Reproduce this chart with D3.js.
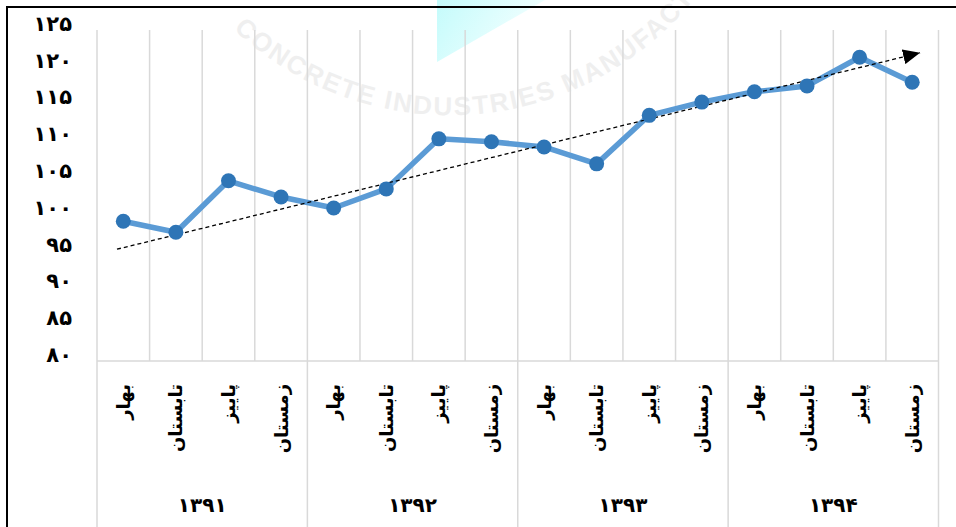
<!DOCTYPE html>
<html>
<head>
<meta charset="utf-8">
<script src="https://cdn.jsdelivr.net/npm/d3@7"></script>
<style>
  body { margin: 0; background: #fff; }
  text { font-family: "DejaVu Sans", sans-serif; font-weight: bold; }
</style>
</head>
<body>
<div id="chart"></div>
<script>
// Data
const years = ["۱۳۹۱", "۱۳۹۲", "۱۳۹۳", "۱۳۹۴"];
const seasons = ["بهار", "تابستان", "پاییز", "زمستان"];
const values = [99.0, 97.5, 104.5, 102.3, 100.8, 103.4, 110.2, 109.8,
                109.1, 106.8, 113.4, 115.2, 116.6, 117.4, 121.3, 117.9];
const yTicks = [80, 85, 90, 95, 100, 105, 110, 115, 120, 125];
// hand drawn trend arrow (category index, value)
const trendIdx = [-0.12, 15.15];
const trendVal = [95.2, 121.9];

const fa = n => String(n).replace(/\d/g, d => "۰۱۲۳۴۵۶۷۸۹"[d]);

const data = values.map((v, i) => ({
  i: i, year: years[Math.floor(i / 4)], season: seasons[i % 4], value: v
}));

const width = 956, height = 527;
const plot = {left: 97, right: 938.5, top: 30, bottom: 361};

const svg = d3.select("#chart")
  .append("svg")
  .attr("width", width)
  .attr("height", height);

// watermark (very faint)
const defs = svg.append("defs");
const grad = defs.append("linearGradient").attr("id", "wm")
  .attr("x1", "0").attr("x2", "1").attr("y1", "0").attr("y2", "0.4");
grad.append("stop").attr("offset", "0%").attr("stop-color", "#c4fbfb");
grad.append("stop").attr("offset", "100%").attr("stop-color", "#f4ffff");

svg.append("path")
  .attr("d", "M437,0 L437,62 L545,0 Z")
  .attr("fill", "url(#wm)");

defs.append("path").attr("id", "arc")
  .attr("d", "M200,-8 A315,315 0 0,0 740,-77");
svg.append("text")
  .style("font-family", "Liberation Sans, sans-serif")
  .style("font-size", "26px")
  .style("letter-spacing", "2px")
  .attr("fill", "#efefef")
  .append("textPath")
  .attr("href", "#arc")
  .attr("startOffset", 50)
  .text("CONCRETE INDUSTRIES MANUFACTURERS");

const x = d3.scaleBand()
  .domain(d3.range(values.length))
  .range([plot.left, plot.right])
  .padding(0);
const bw = x.bandwidth();
const xc = d3.scaleLinear()
  .domain([0, values.length - 1])
  .range([x(0) + bw / 2, x(values.length - 1) + bw / 2]);

const y = d3.scaleLinear()
  .domain([80, 125])
  .range([plot.bottom, plot.top]);

// vertical gridlines between categories
const edges = d3.range(values.length + 1);
svg.append("g")
  .selectAll("line")
  .data(edges)
  .join("line")
  .attr("x1", i => plot.left + i * bw)
  .attr("x2", i => plot.left + i * bw)
  .attr("y1", plot.top)
  .attr("y2", i => i % 4 === 0 ? height : plot.bottom)
  .attr("stroke", "#d9d9d9")
  .attr("stroke-width", 1.5);

// category axis line
svg.append("line")
  .attr("x1", plot.left).attr("x2", plot.right)
  .attr("y1", plot.bottom).attr("y2", plot.bottom)
  .attr("stroke", "#d9d9d9")
  .attr("stroke-width", 1.5);

// y axis labels
const yAxis = svg.append("g")
  .attr("transform", "translate(72,0)")
  .call(d3.axisLeft(y).tickValues(yTicks).tickSize(0).tickPadding(0).tickFormat(fa));
yAxis.select(".domain").remove();
yAxis.selectAll("text")
  .attr("y", -7)
  .attr("dy", "0.35em")
  .style("font-size", "21px")
  .style("letter-spacing", "3px")
  .attr("fill", "#000");

// season labels (rotated)
svg.append("g")
  .selectAll("text")
  .data(data)
  .join("text")
  .attr("transform", d => `translate(${xc(d.i)},384) rotate(-90)`)
  .attr("text-anchor", "end")
  .attr("dominant-baseline", "central")
  .style("font-size", "18px")
  .text(d => d.season);

// year labels
svg.append("g")
  .selectAll("text")
  .data(years)
  .join("text")
  .attr("x", (d, k) => plot.left + (k * 4 + 2) * bw)
  .attr("y", 505)
  .attr("text-anchor", "middle")
  .attr("dominant-baseline", "central")
  .style("font-size", "20px")
  .style("letter-spacing", "2px")
  .text(d => d);

// trend arrow
defs.append("marker")
  .attr("id", "arrow")
  .attr("markerUnits", "userSpaceOnUse")
  .attr("viewBox", "0 0 17 15")
  .attr("markerWidth", 17)
  .attr("markerHeight", 15)
  .attr("refX", 17)
  .attr("refY", 7.5)
  .attr("orient", "auto")
  .append("path")
  .attr("d", "M0,0 L17,7.5 L0,15 Z")
  .attr("fill", "#000");

// series line
svg.append("path")
  .datum(data)
  .attr("fill", "none")
  .attr("stroke", "#5b9bd5")
  .attr("stroke-width", 5.5)
  .attr("stroke-linejoin", "round")
  .attr("d", d3.line().x(d => xc(d.i)).y(d => y(d.value)));

svg.append("line")
  .attr("x1", xc(trendIdx[0])).attr("y1", y(trendVal[0]))
  .attr("x2", xc(trendIdx[1])).attr("y2", y(trendVal[1]))
  .attr("stroke", "#000")
  .attr("stroke-width", 1.3)
  .attr("stroke-dasharray", "4,3")
  .attr("marker-end", "url(#arrow)");

svg.append("g")
  .selectAll("circle")
  .data(data)
  .join("circle")
  .attr("cx", d => xc(d.i))
  .attr("cy", d => y(d.value))
  .attr("r", 7.5)
  .attr("fill", "#2e75b6");

// outer frame (top and left edges visible)
svg.append("path")
  .attr("d", `M7,${height} V7 H${width}`)
  .attr("fill", "none")
  .attr("stroke", "#000")
  .attr("stroke-width", 2);
</script>
</body>
</html>
